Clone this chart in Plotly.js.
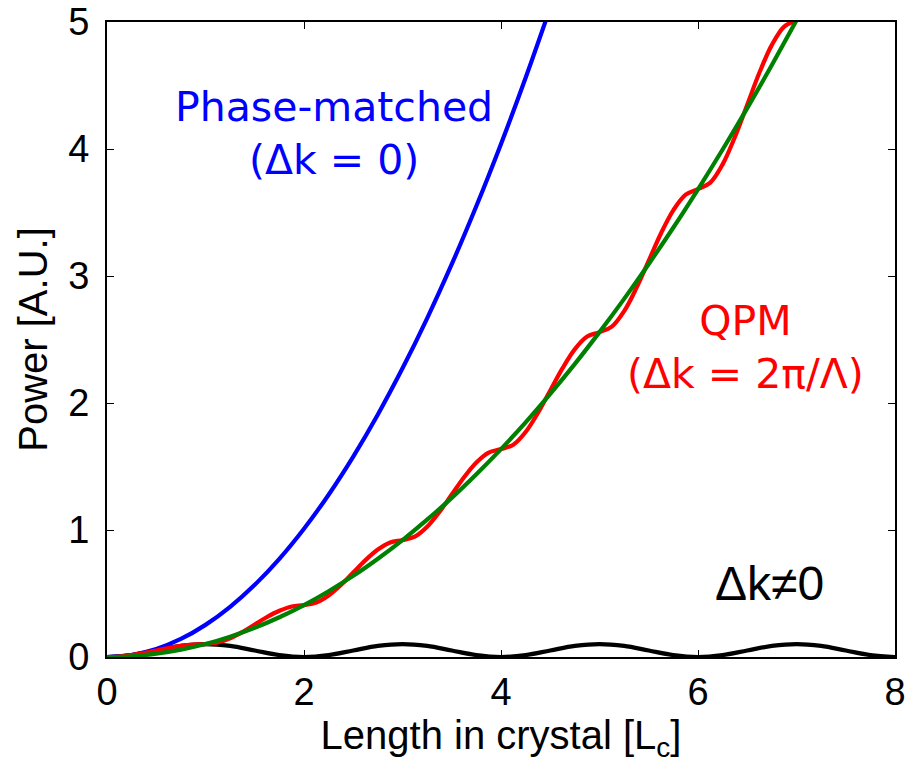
<!DOCTYPE html>
<html>
<head>
<meta charset="utf-8">
<script src="https://cdn.plot.ly/plotly-3.0.1.min.js"></script>
<style>html,body{margin:0;padding:0;background:#fff;}#chart{width:917px;height:763px;}</style>
</head>
<body>
<div id="chart"></div>
<script>
// Phase-matched (blue)
const xBlue = [0,0.25,0.5,0.75,1,1.25,1.5,1.75,2,2.25,2.5,2.75,3,3.25,3.5,3.75,4,4.25,4.5];
const yBlue = [0,0.016,0.063,0.142,0.253,0.395,0.568,0.773,1.01,1.278,1.578,1.91,2.273,2.667,3.093,3.551,4.04,4.561,5.113];

// QPM (red)
const xRed = [0,0.125,0.25,0.375,0.5,0.625,0.75,0.875,
  1,1.125,1.25,1.375,1.5,1.625,1.75,1.875,
  2,2.125,2.25,2.375,2.5,2.625,2.75,2.875,
  3,3.125,3.25,3.375,3.5,3.625,3.75,3.875,
  4,4.125,4.25,4.375,4.5,4.625,4.75,4.875,
  5,5.125,5.25,5.375,5.5,5.625,5.75,5.875,
  6,6.125,6.25,6.375,6.5,6.625,6.75,6.875,
  7,7.125];
const yRed = [0,0.004,0.015,0.032,0.051,0.071,0.087,0.098,
  0.102,0.114,0.147,0.197,0.256,0.315,0.364,0.398,
  0.409,0.429,0.484,0.567,0.665,0.763,0.846,0.902,
  0.921,0.948,1.026,1.142,1.279,1.416,1.532,1.61,
  1.637,1.672,1.772,1.922,2.098,2.274,2.424,2.523,
  2.558,2.601,2.723,2.906,3.121,3.337,3.519,3.641,
  3.684,3.735,3.879,4.095,4.349,4.604,4.82,4.964,
  5.014,5.073];

// Fit (green)
const xGreen = [0,0.25,0.5,0.75,1,1.25,1.5,1.75,2,2.25,2.5,2.75,3,3.25,3.5,3.75,4,4.25,4.5,4.75,5,5.25,5.5,5.75,6,6.25,6.5,6.75,7,7.25];
const yGreen = [0,0.006,0.026,0.058,0.102,0.16,0.23,0.313,0.409,0.518,0.639,0.774,0.921,1.081,1.253,1.439,1.637,1.848,2.072,2.308,2.558,2.82,3.095,3.382,3.683,3.996,4.322,4.661,5.013,5.377];

// Δk≠0 (black)
const xBlack = [0,0.25,0.5,0.75,1,1.25,1.5,1.75,2,2.25,2.5,2.75,3,3.25,3.5,3.75,4,4.25,4.5,4.75,5,5.25,5.5,5.75,6,6.25,6.5,6.75,7,7.25,7.5,7.75,8];
const yBlack = [0,0.015,0.051,0.087,0.102,0.087,0.051,0.015,0,0.015,0.051,0.087,0.102,0.087,0.051,0.015,0,0.015,0.051,0.087,0.102,0.087,0.051,0.015,0,0.015,0.051,0.087,0.102,0.087,0.051,0.015,0];

const xTicks = [0,2,4,6,8];
const yTicks = [0,1,2,3,4,5];

const LW = 4.2;
const traces = [
  {x:xBlack, y:yBlack, mode:'lines', line:{color:'#000000', width:LW, shape:'spline'}, hoverinfo:'skip'},
  {x:xBlue, y:yBlue, mode:'lines', line:{color:'#0000ff', width:LW, shape:'spline'}, hoverinfo:'skip'},
  {x:xRed, y:yRed, mode:'lines', line:{color:'#ff0000', width:LW, shape:'spline'}, hoverinfo:'skip'},
  {x:xGreen, y:yGreen, mode:'lines', line:{color:'#008000', width:LW, shape:'spline'}, hoverinfo:'skip'}
];

const SANS = '"Liberation Sans", Arial, sans-serif';
const tickFont = {family:SANS, size:38, color:'#000'};
const annFont = {family:'"DejaVu Sans", Verdana, sans-serif', size:41};

const layout = {
  width:917, height:763,
  margin:{l:107, r:22, t:22, b:106},
  paper_bgcolor:'#fff', plot_bgcolor:'#fff',
  showlegend:false,
  xaxis:{
    range:[0,8], tickvals:xTicks, ticktext:xTicks.map(String),
    ticks:'inside', ticklen:7, tickwidth:1, tickcolor:'#000',
    showline:true, linewidth:2, linecolor:'#000', mirror:'ticks',
    showgrid:false, zeroline:false,
    tickfont:tickFont, ticklabelstandoff:0,
    title:{text:'Length in crystal [L<sub>c</sub>]', font:{family:SANS, size:40, color:'#000'}, standoff:4}
  },
  yaxis:{
    range:[0,5], tickvals:yTicks, ticktext:yTicks.map(String),
    ticks:'inside', ticklen:7, tickwidth:1, tickcolor:'#000',
    showline:true, linewidth:2, linecolor:'#000', mirror:'ticks',
    showgrid:false, zeroline:false,
    tickfont:tickFont, ticklabelstandoff:8,
    title:{text:'Power [A.U.]', font:{family:SANS, size:40, color:'#000'}, standoff:8}
  },
  annotations:[
    {x:2.3, y:4.12, xref:'x', yref:'y', text:'Phase-matched<br>(Δk = 0)', showarrow:false, font:Object.assign({color:'#0000ff'}, annFont), align:'center', xanchor:'center', yanchor:'middle'},
    {x:6.48, y:2.44, xref:'x', yref:'y', text:'QPM<br>(Δk = 2π/Λ)', showarrow:false, font:Object.assign({color:'#ff0000'}, annFont), align:'center', xanchor:'center', yanchor:'middle'},
    {x:6.73, y:0.575, xref:'x', yref:'y', text:'Δk≠0', showarrow:false, font:{family:SANS, size:48, color:'#000'}, xanchor:'center', yanchor:'middle'}
  ]
};

Plotly.newPlot('chart', traces, layout, {staticPlot:true, displayModeBar:false});
</script>
</body>
</html>
